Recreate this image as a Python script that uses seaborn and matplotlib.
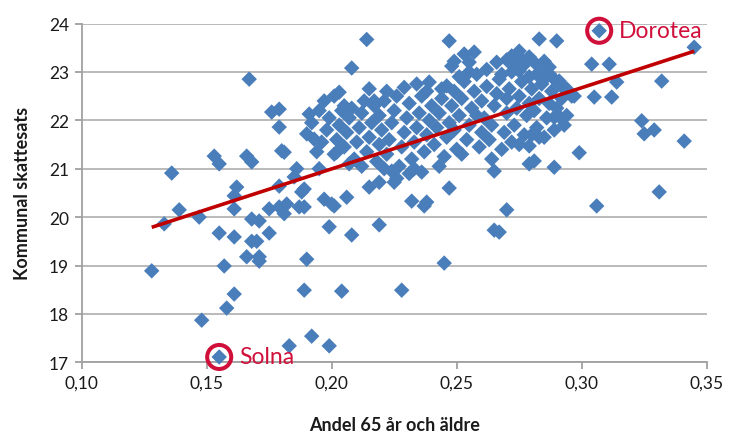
import matplotlib
matplotlib.use("Agg")
import matplotlib.pyplot as plt
import numpy as np
import pandas as pd
import seaborn as sns
from matplotlib.ticker import FuncFormatter

# ---------------- data ----------------
# individually readable municipalities (andel 65+, kommunal skattesats)
andel_spridda = [
    0.167, 0.176, 0.179, 0.179, 0.153, 0.155, 0.166, 0.168, 0.180, 0.181,
    0.136, 0.162, 0.186, 0.133, 0.139, 0.147, 0.161, 0.161, 0.155, 0.161,
    0.168, 0.171, 0.168, 0.170, 0.175, 0.179, 0.182, 0.181, 0.175, 0.166,
    0.171, 0.171, 0.187, 0.189, 0.188, 0.190, 0.197, 0.200, 0.199, 0.128,
    0.157, 0.161, 0.158, 0.148, 0.189, 0.204, 0.192, 0.183, 0.199, 0.228,
    0.245, 0.208, 0.219, 0.265, 0.267, 0.270, 0.306, 0.232, 0.237, 0.247,
    0.201, 0.206, 0.215, 0.219, 0.225, 0.345, 0.304, 0.311, 0.314, 0.332,
    0.305, 0.312, 0.296, 0.324, 0.325, 0.329, 0.341, 0.299, 0.331, 0.191,
    0.197, 0.201, 0.190, 0.193, 0.196, 0.185, 0.189, 0.179, 0.195, 0.202,
    0.214, 0.208, 0.247, 0.248, 0.283, 0.290, 0.257, 0.253, 0.255, 0.249,
    0.275, 0.272, 0.279, 0.285, 0.287, 0.281, 0.275, 0.273, 0.287, 0.291,
    0.203, 0.215, 0.229, 0.234, 0.239, 0.246, 0.221, 0.226, 0.231, 0.265,
    0.238, 0.236, 0.289, 0.279, 0.281, 0.279, 0.289, 0.291,
]
skatt_spridda = [
    22.85, 22.17, 22.23, 21.86, 21.26, 21.10, 21.26, 21.14, 21.37, 21.34,
    20.91, 20.62, 21.00, 19.86, 20.15, 20.00, 20.44, 20.17, 19.67, 19.59,
    19.96, 19.92, 19.50, 19.50, 20.17, 20.21, 20.27, 20.07, 19.67, 19.18,
    19.18, 19.09, 20.21, 20.21, 20.52, 19.13, 20.37, 20.27, 19.80, 18.89,
    18.99, 18.41, 18.12, 17.87, 18.49, 18.47, 17.54, 17.34, 17.34, 18.49,
    19.05, 19.63, 19.84, 19.73, 19.69, 20.15, 20.23, 20.33, 20.23, 20.60,
    20.23, 20.41, 20.62, 20.72, 20.72, 23.51, 23.16, 23.16, 22.79, 22.81,
    22.48, 22.48, 22.50, 21.99, 21.72, 21.80, 21.57, 21.33, 20.52, 22.13,
    22.40, 22.50, 21.72, 21.61, 21.55, 20.83, 20.58, 20.64, 21.00, 21.34,
    23.67, 23.08, 23.64, 23.12, 23.68, 23.64, 23.41, 23.37, 23.20, 23.22,
    23.43, 23.33, 23.31, 23.22, 23.10, 23.20, 23.02, 23.10, 22.96, 22.81,
    22.58, 22.65, 22.68, 22.75, 22.79, 22.71, 21.00, 20.80, 20.90, 20.95,
    20.31, 20.93, 21.03, 21.10, 21.16, 21.47, 22.06, 22.08,
]

# dense central cluster (estimated)
andel_tata = [
    0.192, 0.195, 0.198, 0.194, 0.199,
    0.201, 0.202, 0.203, 0.204, 0.205, 0.206, 0.207, 0.208, 0.209, 0.210, 0.205, 0.207,
    0.211, 0.212, 0.213, 0.214, 0.215, 0.216, 0.217, 0.218, 0.219, 0.220, 0.212, 0.219, 0.217,
    0.221, 0.222, 0.223, 0.224, 0.225, 0.226, 0.227, 0.228, 0.229, 0.230, 0.224, 0.222,
    0.231, 0.232, 0.233, 0.234, 0.235, 0.236, 0.237, 0.238, 0.239, 0.240, 0.233, 0.238,
    0.241, 0.242, 0.243, 0.244, 0.245, 0.246, 0.247, 0.248, 0.249, 0.250, 0.243, 0.249, 0.244,
    0.251, 0.252, 0.253, 0.254, 0.255, 0.256, 0.257, 0.258, 0.259, 0.260, 0.252, 0.255, 0.258, 0.251, 0.260,
    0.261, 0.262, 0.263, 0.264, 0.265, 0.266, 0.267, 0.268, 0.269, 0.270, 0.262, 0.266, 0.264, 0.270, 0.268,
    0.271, 0.272, 0.273, 0.274, 0.275, 0.276, 0.277, 0.278, 0.279, 0.280, 0.272, 0.277, 0.280, 0.275, 0.279,
    0.281, 0.282, 0.283, 0.284, 0.285, 0.286, 0.287, 0.288, 0.289, 0.283, 0.286, 0.290,
    0.292, 0.294, 0.297, 0.293,
    0.284, 0.289, 0.276, 0.292, 0.270, 0.282, 0.294,
]
skatt_tata = [
    21.95, 22.20, 21.80, 21.35, 22.05,
    21.30, 21.60, 21.90, 22.20, 21.45, 21.75, 22.05, 22.25, 21.20, 21.55, 22.30, 21.10,
    21.85, 22.15, 22.40, 21.35, 21.65, 21.95, 22.30, 21.15, 21.50, 21.80, 21.05, 22.10, 22.40,
    22.40, 21.30, 21.60, 21.95, 22.20, 22.50, 21.05, 21.45, 21.75, 22.05, 20.95, 22.60,
    22.35, 21.20, 21.55, 21.85, 22.15, 22.50, 21.35, 21.70, 22.00, 22.30, 21.00, 22.60,
    21.50, 21.85, 22.15, 22.45, 21.25, 21.65, 21.95, 22.30, 22.60, 21.40, 21.05, 21.80, 22.65,
    22.10, 22.45, 22.80, 21.60, 21.90, 22.25, 22.60, 22.95, 21.45, 21.75, 21.30, 23.00, 22.10, 22.90, 22.40,
    22.05, 22.70, 21.60, 21.90, 22.30, 22.55, 22.85, 21.40, 21.75, 22.15, 23.05, 23.20, 21.20, 22.45, 22.95,
    22.65, 21.55, 21.90, 22.25, 22.50, 22.80, 21.70, 22.10, 22.35, 22.65, 23.00, 23.15, 21.70, 21.50, 22.90,
    22.20, 21.85, 22.45, 22.75, 21.65, 22.05, 22.35, 22.60, 21.80, 21.65, 22.90, 22.25,
    22.45, 22.10, 22.50, 21.90,
    23.05, 22.85, 23.25, 22.70, 23.25, 22.95, 22.65,
]

# highlighted municipalities
kommun_namn = ["Dorotea", "Solna"]
kommun_andel = [0.307, 0.155]
kommun_skatt = [23.85, 17.11]

x_ticks = [0.10, 0.15, 0.20, 0.25, 0.30, 0.35]
y_ticks = [17, 18, 19, 20, 21, 22, 23, 24]

df = pd.DataFrame({
    "andel": andel_spridda + andel_tata + kommun_andel,
    "skatt": skatt_spridda + skatt_tata + kommun_skatt,
})

# ---------------- styling ----------------
sns.set_style("white")
plt.rcParams["font.family"] = ["Lato", "DejaVu Sans"]

BLUE = "#4A7EBB"
LINE_RED = "#C00000"
MARK_RED = "#D0103A"
GRID = "#B4B4B4"
AXIS = "#A0A0A0"

fig = plt.figure(figsize=(7.3, 4.35), dpi=100)
W, H = 730, 435
ax = fig.add_axes([81.7 / W, 1 - 363.3 / H, (706.7 - 81.7) / W, (363.3 - 24.5) / H])

sns.scatterplot(data=df, x="andel", y="skatt", marker="D", s=62, color=BLUE,
                edgecolor="none", linewidth=0, ax=ax, zorder=3, clip_on=False)
sns.regplot(data=df, x="andel", y="skatt", scatter=False, ci=None, ax=ax,
            color=LINE_RED, line_kws={"lw": 2.6, "zorder": 4, "solid_capstyle": "butt"})

# rings and names
ring_df = pd.DataFrame({"andel": kommun_andel, "skatt": kommun_skatt})
ax.scatter(ring_df["andel"], ring_df["skatt"], s=300, facecolors="none",
           edgecolors=MARK_RED, linewidths=2.9, zorder=5, clip_on=False)
for namn, xa, ys in zip(kommun_namn, kommun_andel, kommun_skatt):
    ax.annotate(namn, xy=(xa, ys), xytext=(14.5, 0), textcoords="offset points",
                va="center", ha="left", color=MARK_RED, fontsize=16.5, zorder=6)

ax.set_xlim(x_ticks[0], x_ticks[-1])
ax.set_ylim(y_ticks[0], y_ticks[-1])
ax.set_xticks(x_ticks)
ax.set_yticks(y_ticks)
ax.xaxis.set_major_formatter(FuncFormatter(lambda v, _: f"{v:.2f}".replace(".", ",")))
ax.yaxis.set_major_formatter(FuncFormatter(lambda v, _: f"{v:.0f}"))

ax.yaxis.grid(True, color=GRID, lw=1.3)
ax.xaxis.grid(False)
ax.set_axisbelow(True)
for side in ["top", "right"]:
    ax.spines[side].set_visible(False)
for side in ["left", "bottom"]:
    ax.spines[side].set_color(AXIS)
    ax.spines[side].set_linewidth(1.3)

ax.tick_params(axis="both", which="major", direction="out", length=5, width=1.3,
               color=AXIS, labelsize=12.5, labelcolor="#1a1a1a", pad=4,
               bottom=True, left=True)

ax.set_xlabel("Andel 65 år och äldre", fontsize=13, fontweight="bold", labelpad=18,
              color="#1a1a1a")
ax.set_ylabel("Kommunal skattesats", fontsize=13, fontweight="bold", labelpad=13,
              color="#1a1a1a")

fig.savefig("out.png", dpi=100)
